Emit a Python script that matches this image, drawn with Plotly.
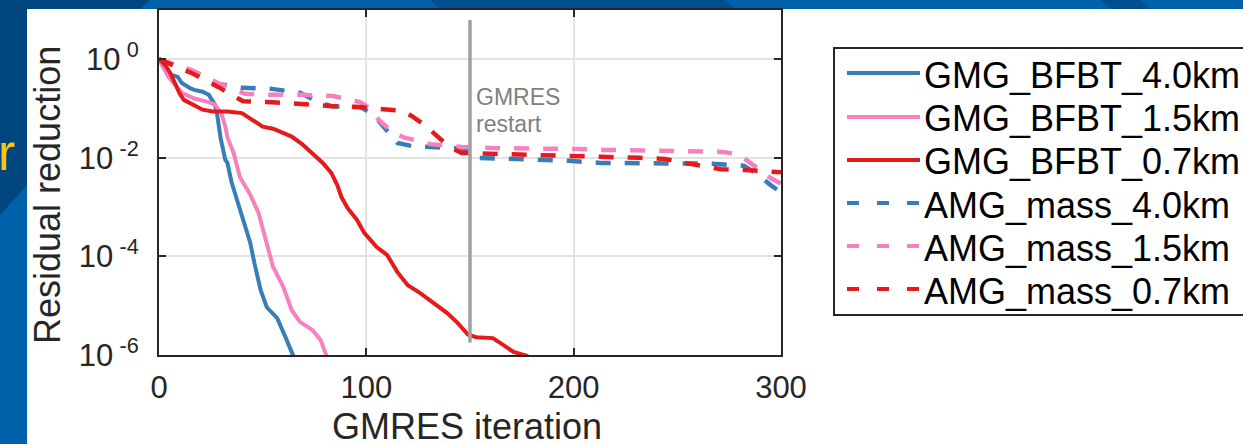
import plotly.graph_objects as go

# ---------------- data ----------------
gmg_40_it = [0, 4, 9, 11, 15, 17, 21, 24, 26, 27, 28, 28.6, 29.7, 32, 33, 35, 39, 44, 46, 49, 52, 57, 61, 65]
gmg_40_res = [1.0, 0.52, 0.44, 0.33, 0.26, 0.24, 0.22, 0.19, 0.14, 0.12, 0.08, 0.05, 0.025, 9.1e-3, 7.9e-3,
              3.2e-3, 8.7e-4, 1.9e-4, 7.4e-5, 2.1e-5, 9.3e-6, 5.6e-6, 2.3e-6, 9.1e-7]

gmg_15_it = [0, 4.5, 11, 17, 24, 27, 30, 32, 33, 36, 39, 44, 48, 52, 55, 60, 64, 68, 74, 78, 81]
gmg_15_res = [1.0, 0.44, 0.21, 0.16, 0.135, 0.12, 0.081, 0.043, 0.026, 0.0126, 4.1e-3, 1.8e-3, 7.6e-4,
              1.9e-4, 6.2e-5, 2.4e-5, 8.1e-6, 4.7e-6, 3.2e-6, 2.0e-6, 9.1e-7]

gmg_07_it = [0, 3, 5.5, 8.5, 10, 12, 16, 21, 26, 33, 40, 45, 50, 55, 60, 64, 69, 74, 79, 83, 86, 88,
             91, 95.5, 99, 105, 110, 115, 120, 126, 132, 139, 144, 149, 153, 161, 166, 171, 178]
gmg_07_res = [1.0, 0.76, 0.52, 0.28, 0.20, 0.15, 0.12, 0.095, 0.087, 0.087, 0.081, 0.059, 0.043, 0.039,
              0.032, 0.027, 0.019, 0.012, 7.9e-3, 5.0e-3, 2.8e-3, 1.6e-3, 9.5e-4, 5.5e-4, 3.0e-4,
              1.55e-4, 1.07e-4, 4.8e-5, 2.6e-5, 1.8e-5, 1.15e-5, 7.1e-6, 4.5e-6, 2.6e-6, 2.3e-6,
              2.2e-6, 1.6e-6, 1.15e-6, 9.5e-7]

amg_40_it = [0, 16, 28.5, 40.5, 54.5, 68, 76, 83, 97, 102, 106, 111, 115, 122, 129, 144, 149, 154,
             171, 198, 213, 240, 267, 282, 288, 295, 300]
amg_40_res = [1.0, 0.575, 0.316, 0.263, 0.251, 0.209, 0.141, 0.112, 0.107, 0.083, 0.056, 0.0316, 0.020,
              0.0174, 0.0166, 0.0158, 0.0151, 0.0100, 0.0095, 0.0087, 0.0079, 0.0076, 0.0076, 0.0069,
              0.0049, 0.0028, 0.0020]

amg_15_it = [0, 4, 16, 28.5, 41.5, 55, 69.5, 84, 97, 102, 106, 112, 118, 131, 146, 160, 174, 202, 215,
             244, 272, 280, 285, 295, 300]
amg_15_res = [1.0, 0.87, 0.60, 0.33, 0.20, 0.19, 0.19, 0.18, 0.135, 0.10, 0.059, 0.035, 0.026, 0.019,
              0.0166, 0.0158, 0.0158, 0.0151, 0.0145, 0.0138, 0.0132, 0.0115, 0.0079, 0.0039, 0.0030]

amg_07_it = [0, 16, 28.5, 40.5, 54.5, 68, 84, 97, 110.5, 118, 122.5, 128, 134, 140, 146, 160, 184, 213,
             232, 244, 256, 271, 285, 300]
amg_07_res = [1.0, 0.52, 0.275, 0.141, 0.135, 0.123, 0.112, 0.107, 0.098, 0.089, 0.068, 0.047, 0.028,
              0.0166, 0.0126, 0.0120, 0.0115, 0.0105, 0.0100, 0.0095, 0.0076, 0.0059, 0.0056, 0.0051]

restart_iter = [150, 150]
restart_res = [6.3, 1.8e-6]

series_names = ["GMG_BFBT_4.0km", "GMG_BFBT_1.5km", "GMG_BFBT_0.7km",
                "AMG_mass_4.0km", "AMG_mass_1.5km", "AMG_mass_0.7km"]
series_x = [gmg_40_it, gmg_15_it, gmg_07_it, amg_40_it, amg_15_it, amg_07_it]
series_y = [gmg_40_res, gmg_15_res, gmg_07_res, amg_40_res, amg_15_res, amg_07_res]
series_colors = ["#377eb8", "#f781bf", "#e41a1c", "#377eb8", "#f781bf", "#e41a1c"]
series_dash = ["solid", "solid", "solid", "15px,14px", "15px,14px", "15px,14px"]

x_ticks = [0, 100, 200, 300]
y_ticks = [1, 1e-2, 1e-4, 1e-6]
y_ticktext = ["10\u2009<sup>0</sup>", "10\u2009<sup>-2</sup>", "10\u2009<sup>-4</sup>", "10\u2009<sup>-6</sup>"]

x_title = "GMRES iteration"
y_title = "Residual reduction"
restart_label = ["GMRES", "restart"]

# ---------------- layout geometry ----------------
W, H = 1243, 444
PL, PR, PT, PB = 159, 781, 10, 355   # plot area in pixels
FONT = "Liberation Sans, Arial, Helvetica, sans-serif"
INK = "#262626"


def px(xp):
    return (xp - PL) / (PR - PL)


def py(yp):
    return (PB - yp) / (PB - PT)


fig = go.Figure()
for name, xs, ys, col, dash in zip(series_names, series_x, series_y, series_colors, series_dash):
    fig.add_trace(go.Scatter(x=xs, y=ys, mode="lines", name=name,
                             line=dict(color=col, width=4 if dash == "solid" else 4.5, dash=dash),
                             showlegend=False))

fig.add_trace(go.Scatter(x=restart_iter, y=restart_res, mode="lines", name="restart",
                         line=dict(color="#a0a0a0", width=3.5), showlegend=False))

shapes = []
# slide background pieces
shapes.append(dict(type="path", xref="paper", yref="paper", layer="below",
                   path=f"M{px(0)},{py(0)} L{px(150)},{py(0)} L{px(140)},{py(9)} L{px(27)},{py(9)} "
                        f"L{px(27)},{py(185)} L{px(0)},{py(215)} Z",
                   fillcolor="#00467f", line=dict(width=0)))
shapes.append(dict(type="path", xref="paper", yref="paper", layer="below",
                   path=f"M{px(430)},{py(0)} L{px(725)},{py(0)} L{px(735)},{py(9)} L{px(440)},{py(9)} Z",
                   fillcolor="#00508f", line=dict(width=0)))
shapes.append(dict(type="path", xref="paper", yref="paper", layer="below",
                   path=f"M{px(1100)},{py(0)} L{px(1140)},{py(0)} L{px(1150)},{py(9)} L{px(1110)},{py(9)} Z",
                   fillcolor="#00508f", line=dict(width=0)))
# white slide content area
shapes.append(dict(type="rect", xref="paper", yref="paper", layer="below",
                   x0=px(27), x1=px(W + 5), y0=py(H + 5), y1=py(9),
                   fillcolor="white", line=dict(width=0)))
# legend box
shapes.append(dict(type="rect", xref="paper", yref="paper", layer="below",
                   x0=px(834), x1=px(W + 20), y0=py(315), y1=py(48),
                   fillcolor="white", line=dict(color=INK, width=2)))

legend_line_y = [73, 117, 160, 203, 246, 289]
legend_text_y = [75.5, 118.5, 161.5, 205, 248, 291]
annotations = []
for i, name in enumerate(series_names):
    dash = "solid" if series_dash[i] == "solid" else "12px,18px"
    shapes.append(dict(type="line", xref="paper", yref="paper", layer="below",
                       x0=px(847), x1=px(920), y0=py(legend_line_y[i]), y1=py(legend_line_y[i]),
                       line=dict(color=series_colors[i], width=4, dash=dash)))
    annotations.append(dict(text=name, xref="paper", yref="paper", x=px(922), y=py(legend_text_y[i]),
                            xanchor="left", yanchor="middle", showarrow=False,
                            font=dict(family=FONT, size=36, color="black")))

# axis titles
annotations.append(dict(text=x_title, xref="paper", yref="paper", x=px(467), y=py(427),
                        xanchor="center", yanchor="middle", showarrow=False,
                        font=dict(family=FONT, size=36, color=INK)))
annotations.append(dict(text=y_title, xref="paper", yref="paper", x=px(48), y=py(195),
                        xanchor="center", yanchor="middle", showarrow=False, textangle=-90,
                        font=dict(family=FONT, size=36, color=INK)))
# restart label
annotations.append(dict(text=restart_label[0], xref="paper", yref="paper", x=px(474), y=py(97),
                        xanchor="left", yanchor="middle", showarrow=False,
                        font=dict(family=FONT, size=23, color="#808080")))
annotations.append(dict(text=restart_label[1], xref="paper", yref="paper", x=px(474), y=py(124),
                        xanchor="left", yanchor="middle", showarrow=False,
                        font=dict(family=FONT, size=23, color="#808080")))
# slide title fragment at left edge
annotations.append(dict(text="r", xref="paper", yref="paper", x=px(-4.5), y=py(152),
                        xanchor="left", yanchor="middle", showarrow=False,
                        font=dict(family=FONT, size=52, color="#ffc20e")))

axis_common = dict(ticks="inside", ticklen=7, tickwidth=2, tickcolor=INK,
                   showline=True, linecolor=INK, linewidth=2, mirror="ticks",
                   showgrid=True, gridcolor="#e3e3e3", gridwidth=2, zeroline=False,
                   tickfont=dict(family=FONT, size=31, color=INK), automargin=False)

fig.update_layout(
    template="none",
    width=W, height=H, autosize=False,
    margin=dict(l=PL, r=W - PR, t=PT, b=H - PB, pad=0),
    paper_bgcolor="#0061ab", plot_bgcolor="white",
    showlegend=False,
    shapes=shapes, annotations=annotations,
    xaxis=dict(range=[0, 300], tickvals=x_ticks, ticktext=[str(v) for v in x_ticks],
               ticklabelstandoff=4, **axis_common),
    yaxis=dict(type="log", range=[-6, 1], tickvals=y_ticks, ticktext=y_ticktext,
               ticklabelstandoff=12, **axis_common),
)

fig.write_html("out.html")
